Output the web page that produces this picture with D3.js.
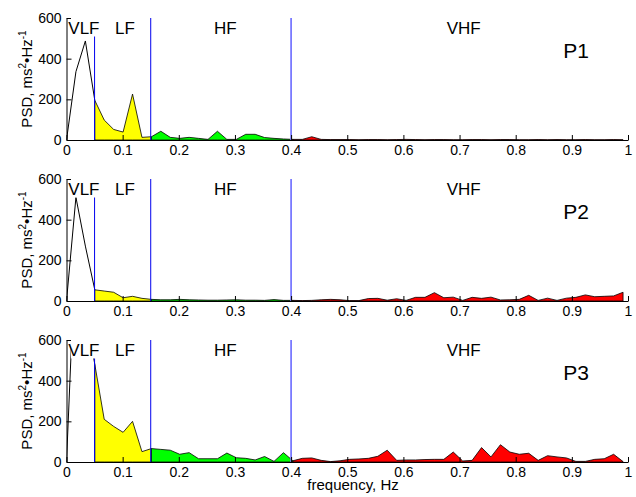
<!DOCTYPE html>
<html>
<head>
<meta charset="utf-8">
<script src="https://cdn.jsdelivr.net/npm/d3@7"></script>
<style>
  body { margin: 0; background: #fff; }
  text { font-family: "Liberation Sans", Arial, sans-serif; fill: #000; }
</style>
</head>
<body>
<div id="chart"></div>
<script>
// frequency grid (Hz)
const freq = [0, 0.0168, 0.0336, 0.0504, 0.0672, 0.084, 0.1008, 0.1176, 0.1344, 0.1512,
    0.168, 0.1848, 0.2016, 0.2184, 0.2352, 0.252, 0.2688, 0.2856, 0.3024, 0.3192,
    0.336, 0.3528, 0.3696, 0.3864, 0.4032, 0.42, 0.4368, 0.4536, 0.4704, 0.4872,
    0.504, 0.5208, 0.5376, 0.5544, 0.5712, 0.588, 0.6048, 0.6216, 0.6384, 0.6552,
    0.672, 0.6888, 0.7056, 0.7224, 0.7392, 0.756, 0.7728, 0.7896, 0.8064, 0.8232,
    0.84, 0.8568, 0.8736, 0.8904, 0.9072, 0.924, 0.9408, 0.9576, 0.9744, 0.9912];

// PSD values, ms^2/Hz
const psdP1 = [0, 336, 487, 195, 98, 52, 39, 226, 13, 16,
    43, 13, 8, 13, 8, 3, 43, 3, 3, 28,
    28, 12, 8, 5, 3, 3, 16, 3, 2, 2,
    2, 1, 2, 2, 1, 2, 3, 2, 1, 2,
    2, 1, 1, 2, 2, 1, 2, 2, 1, 1,
    2, 1, 2, 1, 1, 2, 1, 1, 2, 1];
const psdP2 = [0, 510, 270, 55, 49, 43, 16, 23, 13, 8,
    6, 6, 8, 6, 5, 4, 4, 5, 6, 4,
    4, 3, 7, 3, 3, 2, 3, 6, 8, 6,
    2, 2, 12, 13, 4, 11, 3, 18, 18, 41,
    16, 19, 3, 18, 13, 19, 5, 6, 8, 28,
    3, 14, 3, 14, 18, 30, 21, 23, 25, 43];
const psdP3 = [0, 1100, 750, 480, 210, 175, 146, 200, 51, 66,
    62, 58, 38, 46, 16, 16, 16, 44, 21, 18,
    10, 27, 3, 46, 6, 18, 20, 8, 2, 6,
    13, 15, 18, 28, 58, 8, 10, 10, 12, 13,
    13, 49, 5, 8, 71, 25, 85, 49, 38, 43,
    8, 31, 25, 20, 3, 3, 13, 16, 38, 2];

const panelNames = ["P1", "P2", "P3"];
const bandNames = ["VLF", "LF", "HF", "VHF"];
const bandEdges = [0.05, 0.15, 0.4];
// index range of each band in freq
const bandStart = [0, 3, 9, 24];
const bandEnd = [3, 9, 24, 59];
const bandColors = [null, "#ffff00", "#00ff00", "#ff0000"];

const xTicks = [0, 0.1, 0.2, 0.3, 0.4, 0.5, 0.6, 0.7, 0.8, 0.9, 1];
const yTicks = [0, 200, 400, 600];

const width = 636, height = 497;
const left = 66.5, right = 628;
const panelTops = [18, 179, 340];
const panelH = 122;

const svg = d3.select("#chart").append("svg")
    .attr("width", width)
    .attr("height", height);

const x = d3.scaleLinear().domain([0, 1]).range([left, right]);

const series = [psdP1, psdP2, psdP3];

series.forEach(function(psd, p) {
    const top = panelTops[p];
    const y = d3.scaleLinear().domain([0, 600]).range([top + panelH, top]);
    const g = svg.append("g");

    const clipId = "clip" + p;
    svg.append("clipPath").attr("id", clipId)
        .append("rect")
        .attr("x", left).attr("y", top)
        .attr("width", right - left).attr("height", panelH);

    const plot = g.append("g").attr("clip-path", "url(#" + clipId + ")");
    const pts = freq.map((f, i) => ({f: f, v: psd[i]}));

    // band fills
    for (let b = 1; b < 4; b++) {
        const seg = pts.slice(bandStart[b], bandEnd[b] + 1);
        plot.append("path")
            .datum(seg)
            .attr("fill", bandColors[b])
            .attr("stroke", "#000")
            .attr("stroke-width", 0.8)
            .attr("d", d3.area()
                .x(d => x(d.f))
                .y0(y(0))
                .y1(d => y(d.v)));
    }

    // VLF outline only
    plot.append("path")
        .datum(pts.slice(bandStart[0], bandEnd[0] + 1))
        .attr("fill", "none")
        .attr("stroke", "#000")
        .attr("stroke-width", 1)
        .attr("d", d3.line().x(d => x(d.f)).y(d => y(d.v)));

    // band boundaries
    bandEdges.forEach(function(e, i) {
        g.append("line")
            .attr("x1", x(e)).attr("x2", x(e))
            .attr("y1", y(0)).attr("y2", y(600))
            .attr("stroke", i === 2 ? "#7a7aff" : "#0000ee")
            .attr("stroke-width", i === 2 ? 1.8 : 1);
    });

    // axes
    const xAxis = d3.axisBottom(x)
        .tickValues(xTicks)
        .tickSizeInner(-5)
        .tickSizeOuter(0)
        .tickPadding(5)
        .tickFormat(d => d);
    const yAxis = d3.axisLeft(y)
        .tickValues(yTicks)
        .tickSizeInner(-5)
        .tickSizeOuter(0)
        .tickPadding(5);

    const gx = g.append("g")
        .attr("transform", "translate(0," + y(0) + ")")
        .call(xAxis);
    const gy = g.append("g")
        .attr("transform", "translate(" + left + ",0)")
        .call(yAxis);
    [gx, gy].forEach(a => {
        a.selectAll("text").style("font-size", "14px").attr("font-family", null);
        a.selectAll("path, line").attr("stroke", "#000");
    });

    // band labels; VLF sits in a white box that hides what is behind it
    g.append("rect")
        .attr("x", 71).attr("y", top - 1)
        .attr("width", 30).attr("height", 19.5)
        .attr("fill", "#fff");
    const labelX = [68.3, 115, 214, 446.7];
    bandNames.forEach(function(name, i) {
        g.append("text")
            .attr("x", labelX[i])
            .attr("y", top + 16)
            .style("font-size", "17px")
            .text(name);
    });

    g.append("text")
        .attr("x", 563.3)
        .attr("y", top + 40)
        .style("font-size", "21px")
        .text(panelNames[p]);

    // y label
    const yl = g.append("text")
        .attr("transform", "translate(32," + (top + 61) + ") rotate(-90)")
        .attr("text-anchor", "middle")
        .style("font-size", "15px");
    yl.append("tspan").text("PSD, ms");
    yl.append("tspan").attr("dy", -6).style("font-size", "10px").text("2");
    yl.append("tspan").attr("dy", 6).text("\u2022Hz");
    yl.append("tspan").attr("dy", -6).style("font-size", "10px").text("-1");
});

svg.append("text")
    .attr("x", 353)
    .attr("y", 490)
    .attr("text-anchor", "middle")
    .style("font-size", "15px")
    .text("frequency, Hz");
</script>
</body>
</html>
